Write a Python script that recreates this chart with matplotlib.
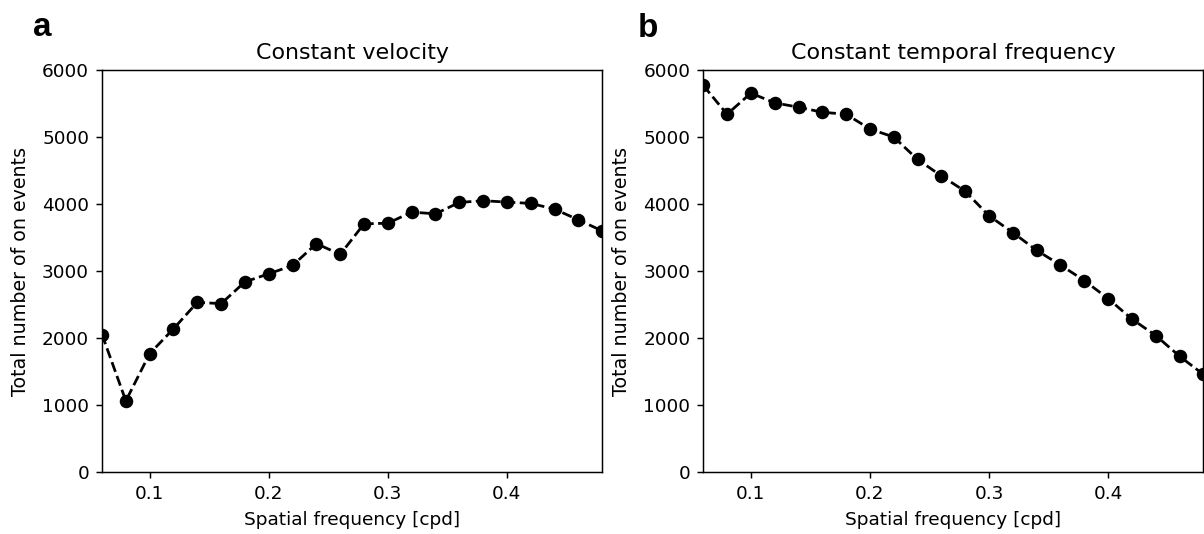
import numpy as np
import matplotlib
matplotlib.use("Agg")
import matplotlib.pyplot as plt

# spatial frequency [cpd]
sf = [0.06, 0.08, 0.10, 0.12, 0.14, 0.16, 0.18, 0.20, 0.22, 0.24, 0.26,
      0.28, 0.30, 0.32, 0.34, 0.36, 0.38, 0.40, 0.42, 0.44, 0.46, 0.48]

# total number of on events
const_vel = [2050, 1060, 1765, 2135, 2530, 2510, 2835, 2955, 3080, 3405, 3245,
             3700, 3710, 3875, 3850, 4020, 4045, 4025, 4005, 3920, 3760, 3595]
const_tf = [5765, 5335, 5650, 5505, 5440, 5365, 5335, 5115, 4995, 4660, 4415,
            4185, 3820, 3570, 3305, 3085, 2855, 2585, 2280, 2035, 1725, 1455]

titles = ['Constant velocity', 'Constant temporal frequency']
panels = ['a', 'b']
xticks = [0.1, 0.2, 0.3, 0.4]
yticks = [0, 1000, 2000, 3000, 4000, 5000, 6000]

dpi = 133
fig = plt.figure(figsize=(1204.4/dpi, 534.4/dpi), dpi=dpi)

W, H = 1204., 534.
lefts = [102, 703]
for i, ys in enumerate([const_vel, const_tf]):
    ax = fig.add_axes([lefts[i]/W, 62/H, 500/W, 402/H])
    ax.plot(sf, ys, 'k--', marker='o', markersize=6.3)
    ax.set_xlim(0.06, 0.48)
    ax.set_ylim(0, 6000)
    ax.set_xticks(xticks)
    ax.set_yticks(yticks)
    ax.set_title(titles[i])
    ax.set_xlabel('Spatial frequency [cpd]')
    ax.set_ylabel('Total number of on events', fontsize=10.3, labelpad=6.5)

fig.text(33/W, 1 - 36/H, panels[0], family='Liberation Sans', weight='bold', fontsize=18)
fig.text(638/W, 1 - 37/H, panels[1], family='Liberation Sans', weight='bold', fontsize=18)

fig.savefig('out.png', dpi=dpi)
